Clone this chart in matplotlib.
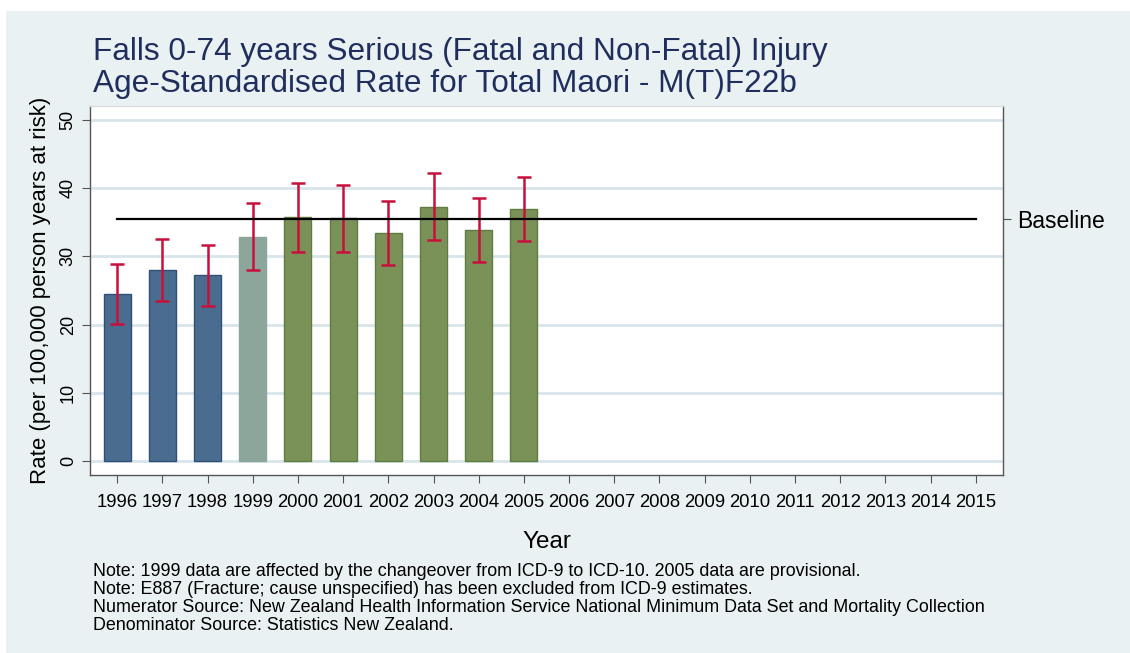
import matplotlib.pyplot as plt
import matplotlib.patches as mpatches
import numpy as np

plt.rcParams['font.family'] = ['Liberation Sans', 'DejaVu Sans']

years = list(range(1996, 2016))
bar_years = [1996, 1997, 1998, 1999, 2000, 2001, 2002, 2003, 2004, 2005]
rate = [24.5, 28.0, 27.3, 32.9, 35.8, 35.7, 33.4, 37.2, 33.9, 36.9]
ci_low = [20.1, 23.4, 22.8, 28.0, 30.7, 30.7, 28.7, 32.4, 29.2, 32.2]
ci_high = [28.9, 32.6, 31.7, 37.8, 40.7, 40.5, 38.1, 42.3, 38.5, 41.7]
baseline = 35.5

bg = '#E9F1F3'
fill = {'icd9': '#496C8F', 'change': '#8DA69B', 'icd10': '#7A9157'}
edge = {'icd9': '#2F5078', 'change': '#8DA69B', 'icd10': '#5E7D40'}
period = ['icd9', 'icd9', 'icd9', 'change'] + ['icd10'] * 6

fig = plt.figure(figsize=(11.3, 6.53), dpi=100)
fig.patch.set_facecolor('white')
fig.patches.append(mpatches.Rectangle((6 / 1130, 0), 1, 1 - 11 / 653,
                                      transform=fig.transFigure,
                                      facecolor=bg, edgecolor='none', zorder=-10))

ax = fig.add_axes([90 / 1130, 1 - 475 / 653, 913 / 1130, 369 / 653])
ax.set_facecolor('white')

ax.set_xlim(1995.40, 2015.60)
ax.set_ylim(-2.05, 52.05)
ax.set_yticks([0, 10, 20, 30, 40, 50])
ax.yaxis.grid(True, color='#D8E5EB', linewidth=2)
ax.set_axisbelow(True)

ax.bar(bar_years, rate, width=0.6,
       color=[fill[p] for p in period],
       edgecolor=[edge[p] for p in period], linewidth=1.0, zorder=2)

yerr = [np.array(rate) - np.array(ci_low), np.array(ci_high) - np.array(rate)]
ax.errorbar(bar_years, rate, yerr=yerr, fmt='none', ecolor='#C8103C',
            elinewidth=1.8, capsize=5, capthick=1.8, zorder=3)

ax.plot([years[0], years[-1]], [baseline, baseline], color='black',
        linewidth=1.6, zorder=4)

ax.set_xticks(years)
ax.set_xticklabels([str(y) for y in years], fontsize=13.3)
ax.tick_params(axis='x', length=6, width=0.8, color='#555555', pad=8)
ax.tick_params(axis='y', length=6, width=0.8, color='#555555', labelsize=13)
for lab in ax.get_yticklabels():
    lab.set_rotation(90)
    lab.set_va('center')

for side in ['left', 'bottom', 'top', 'right']:
    ax.spines[side].set_color('#555555')
    ax.spines[side].set_linewidth(1.0)
ax.spines['top'].set_color('#DDDDDD')

ax.set_ylabel('Rate (per 100,000 person years at risk)', fontsize=16, labelpad=6)
ax.set_xlabel('Year', fontsize=17.5, labelpad=14)

# right-hand axis labelling the baseline level
ax2 = ax.twinx()
ax2.set_ylim(ax.get_ylim())
ax2.set_yticks([baseline])
ax2.set_yticklabels(['Baseline'], fontsize=16.5)
ax2.tick_params(axis='y', length=6, width=0.8, color='#555555', pad=4)
for side in ['left', 'bottom', 'top', 'right']:
    ax2.spines[side].set_visible(False)

fig.text(93 / 1130, 1 - 68 / 653,
         'Falls 0-74 years Serious (Fatal and Non-Fatal) Injury\n'
         'Age-Standardised Rate for Total Maori - M(T)F22b',
         fontsize=22.7, color='#1F2E5C', va='center', ha='left', linespacing=1.12)

notes = [
    'Note: 1999 data are affected by the changeover from ICD-9 to ICD-10. 2005 data are provisional.',
    'Note: E887 (Fracture; cause unspecified) has been excluded from ICD-9 estimates.',
    'Numerator Source: New Zealand Health Information Service National Minimum Data Set and Mortality Collection',
    'Denominator Source: Statistics New Zealand.',
]
for i, line in enumerate(notes):
    fig.text(93 / 1130, 1 - (571 + 18 * i) / 653, line, fontsize=12.9,
             va='center', ha='left', color='black')

fig.savefig('out.png', dpi=100, facecolor=fig.get_facecolor())
